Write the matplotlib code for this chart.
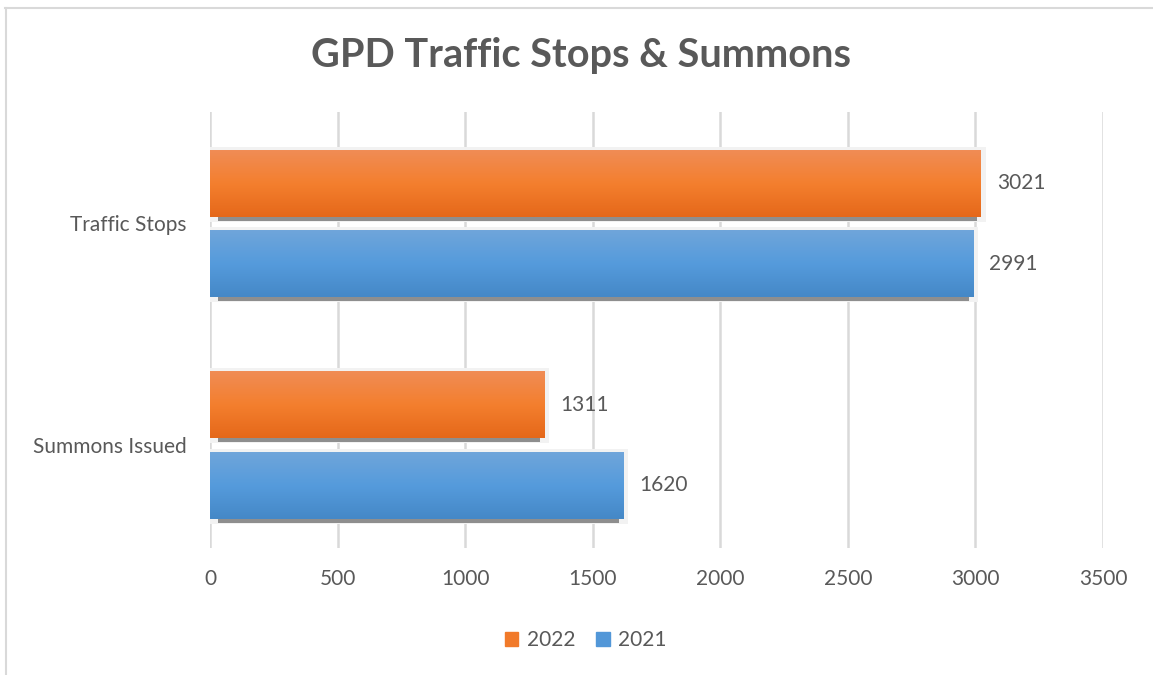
import numpy as np
import matplotlib.pyplot as plt
from matplotlib.patches import Rectangle
from matplotlib.lines import Line2D
from matplotlib.colors import LinearSegmentedColormap

kategorie = ["Summons Issued", "Traffic Stops"]
wartosci2022 = [1311, 3021]
wartosci2021 = [1620, 2991]
serie = ["2022", "2021"]
osX = [0, 500, 1000, 1500, 2000, 2500, 3000, 3500]

plt.rcParams['font.family'] = ['Lato', 'DejaVu Sans']
szary = '#595959'

fig = plt.figure(figsize=(11.53, 6.75), dpi=100)
ax = fig.add_axes([0.1821, 0.1881, 0.7745, 0.6459])

wysokosc = 0.302
przesuniecie = 0.181
px_x = 3500 / 893   # jednostki danych na piksel
px_y = 1.968 / 436

gradPomaranczowy = LinearSegmentedColormap.from_list("p", ["#F08C55", "#F47F2E", "#E5681A"])
gradNiebieski = LinearSegmentedColormap.from_list("n", ["#6FA5DA", "#559BDC", "#4588C7"])


# slupek z gradientem i cieniem w stylu Excela
def slupek(y, w, cmap):
    # miekka poswiata
    ax.barh(y - 1 * px_y, w + 6 * px_x, height=wysokosc + 8 * px_y, left=-1 * px_x,
            color="#F2F2F2", zorder=1)
    # ciemny cien pod spodem
    ax.barh(y - wysokosc / 2 - 2 * px_y, w - 12 * px_x, height=4 * px_y, left=8 * px_x,
            color="#8E8E8E", zorder=1.5)
    pasek = ax.barh(y, w, height=wysokosc, color=cmap(0.5), zorder=2)[0]
    grad = np.linspace(0, 1, 64).reshape(-1, 1)
    im = ax.imshow(grad, cmap=cmap, aspect='auto', origin='upper',
                   extent=[0, w, y - wysokosc / 2, y + wysokosc / 2], zorder=3)
    im.set_clip_path(pasek)
    ax.text(w + 16 * px_x, y, str(w), va='center', ha='left', fontsize=15, color=szary, zorder=4)


for i in range(len(kategorie)):
    slupek(i + przesuniecie, wartosci2022[i], gradPomaranczowy)
    slupek(i - przesuniecie, wartosci2021[i], gradNiebieski)

ax.set_xlim(0, 3500)
ax.set_ylim(-0.465, 1.503)
ax.set_xticks(osX)
ax.set_yticks(range(len(kategorie)))
ax.set_yticklabels(kategorie)
ax.grid(axis='x', color='#D9D9D9', linewidth=1.8)
ax.grid(axis='y', visible=False)
ax.set_axisbelow(True)
for s in ax.spines.values():
    s.set_visible(False)
ax.tick_params(axis='both', length=0, labelsize=15, labelcolor=szary)
ax.tick_params(axis='x', pad=15)
ax.tick_params(axis='y', pad=17)

fig.text(0.504, 0.918, "GPD Traffic Stops & Summons", ha='center', va='center',
         fontsize=28.5, fontweight='bold', color=szary)

uchwyty = [Rectangle((0, 0), 1, 1, color=gradPomaranczowy(0.6)),
           Rectangle((0, 0), 1, 1, color=gradNiebieski(0.6))]
fig.legend(uchwyty, serie, loc='center', bbox_to_anchor=(0.508, 0.052), ncol=2,
           frameon=False, fontsize=15, labelcolor=szary, handlelength=0.65,
           handleheight=0.65, handletextpad=0.4, columnspacing=1.0)

# ramka wykresu
fig.add_artist(Line2D([5 / 1153, 1], [1 - 7.5 / 675, 1 - 7.5 / 675], color='#D9D9D9', lw=1.5))
fig.add_artist(Line2D([5.5 / 1153, 5.5 / 1153], [0, 1 - 7.5 / 675], color='#D9D9D9', lw=1.5))

fig.savefig("out.png", dpi=100)
